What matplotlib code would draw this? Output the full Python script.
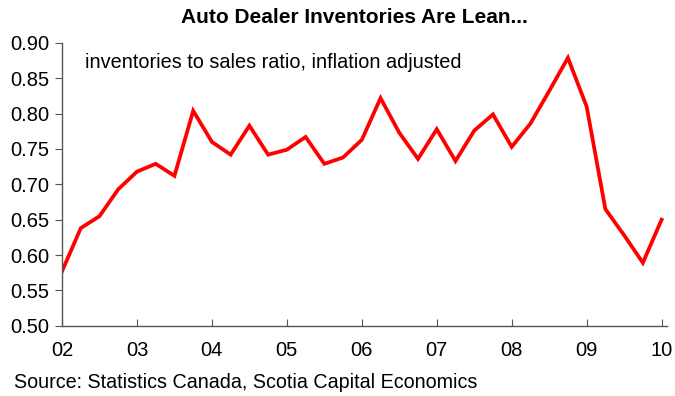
import numpy as np
import matplotlib
matplotlib.use("Agg")
import matplotlib.pyplot as plt
from matplotlib.ticker import FormatStrFormatter

# quarterly inventories-to-sales ratio, 2002Q1 .. 2010Q1
start_year = 2002
ratio = [0.577, 0.638, 0.655, 0.693, 0.718, 0.729, 0.712, 0.804,
         0.760, 0.742, 0.783, 0.742, 0.749, 0.767, 0.729, 0.738,
         0.763, 0.822, 0.773, 0.736, 0.778, 0.733, 0.776, 0.799,
         0.753, 0.786, 0.832, 0.879, 0.810, 0.665, 0.628, 0.589,
         0.650]
year_labels = ["02", "03", "04", "05", "06", "07", "08", "09", "10"]

plt.rcParams['font.family'] = ['Liberation Sans', 'DejaVu Sans']

x = start_year + np.arange(len(ratio)) / 4.0

fig = plt.figure(figsize=(6.75, 3.96), dpi=100)
ax = fig.add_axes([0.0919, 0.1775, 0.896, 0.714])

ax.plot(x, ratio, color="#ff0000", lw=2.7, solid_joinstyle="miter")

ax.set_xlim(2002, 2010.07)
ax.set_ylim(0.50, 0.90)
ax.set_yticks(np.arange(0.50, 0.901, 0.05))
ax.yaxis.set_major_formatter(FormatStrFormatter("%.2f"))
ax.set_xticks(start_year + np.arange(len(year_labels)))
ax.set_xticklabels(year_labels)

for s in ["top", "right"]:
    ax.spines[s].set_visible(False)
for s in ["left", "bottom"]:
    ax.spines[s].set_color("#555555")
    ax.spines[s].set_linewidth(1.0)

ax.tick_params(axis="x", direction="in", length=5, color="#555555",
               labelsize=14.5, pad=11)
ax.tick_params(axis="y", direction="out", length=5, color="#555555",
               labelsize=14.5, pad=4)

ax.text(0.038, 0.93, "inventories to sales ratio, inflation adjusted",
        transform=ax.transAxes, fontsize=14.3, va="center", ha="left")

fig.text(0.525, 0.955, "Auto Dealer Inventories Are Lean...",
         ha="center", va="center", fontsize=15, fontweight="bold")
fig.text(0.02, 0.033, "Source: Statistics Canada, Scotia Capital Economics",
         ha="left", va="center", fontsize=14.2)

fig.savefig("out.png", dpi=100)
